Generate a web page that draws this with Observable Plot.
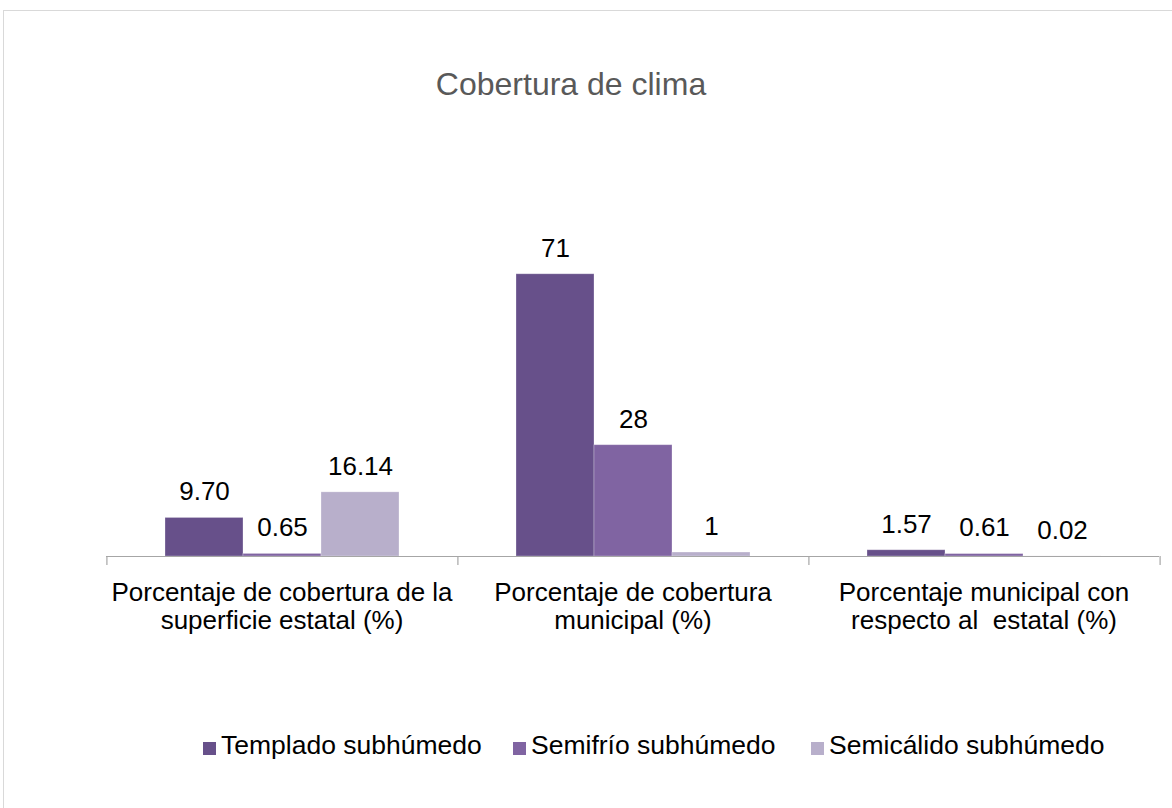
<!DOCTYPE html>
<html>
<head>
<meta charset="utf-8">
<script src="https://cdn.jsdelivr.net/npm/d3@7"></script>
<script src="https://cdn.jsdelivr.net/npm/@observablehq/plot@0.6"></script>
<style>
  html, body { margin: 0; padding: 0; background: #fff; overflow: hidden; }
  body { width: 1172px; height: 808px; position: relative; font-family: "Liberation Sans", Arial, sans-serif; }
  #frame { position: absolute; left: 3px; top: 10px; width: 1200px; height: 900px; border: 1px solid #d9d9d9; box-sizing: border-box; }
  #title { position: absolute; left: 0; top: 68px; width: 1142px; text-align: center; font-size: 32px; line-height: 32px; color: #595959; }
  #chart { position: absolute; left: 0; top: 0; }
  #legend { position: absolute; top: 732px; left: 0; width: 1172px; height: 30px; font-size: 26.5px; line-height: 26px; color: #000; }
  .item { position: absolute; top: 0; white-space: nowrap; }
  .sw { display: inline-block; width: 13px; height: 13px; margin-right: 5px; vertical-align: -1px; }
</style>
</head>
<body>
<div id="frame"></div>
<div id="title">Cobertura de clima</div>
<div id="chart"></div>
<div id="legend"></div>
<script>
// ---- data ----
const categories = [
  "Porcentaje de cobertura de la\nsuperficie estatal (%)",
  "Porcentaje de cobertura\nmunicipal (%)",
  "Porcentaje municipal con\nrespecto al\u00a0 estatal (%)"
];
const series = ["Templado subhúmedo", "Semifrío subhúmedo", "Semicálido subhúmedo"];
const templado   = [9.70, 71, 1.57];
const semifrio   = [0.65, 28, 0.61];
const semicalido = [16.14, 1, 0.02];
const decimals = [2, 0, 2];          // label format per category
const colors = ["#67508a", "#8064a2", "#b8afcb"];
const legendX = [203, 513, 811];

// ---- table built from arrays ----
const seriesValues = [templado, semifrio, semicalido];
const rows = [];
categories.forEach((c, ci) => {
  series.forEach((s, si) => {
    rows.push({category: c, series: s, value: seriesValues[si][ci], ci});
  });
});

// ---- layout ----
const W = 1172, H = 700;
const mTop = 238, mBottom = 144, mLeft = 105, mRight = 13;
const innerH = H - mTop - mBottom;
const padOuter = 0.75;
const facetW = (W - mLeft - mRight) / categories.length;
const step = facetW / (series.length + 2 * padOuter);
const edge = (padOuter + 0.5) * step;

const chart = Plot.plot({
  width: W,
  height: H,
  marginTop: mTop,
  marginBottom: mBottom,
  marginLeft: mLeft,
  marginRight: mRight,
  style: {fontFamily: '"Liberation Sans", Arial, sans-serif', background: "transparent"},
  fx: {domain: categories, padding: 0, axis: null},
  x: {domain: series, paddingInner: 0, paddingOuter: padOuter, axis: null},
  y: {domain: [0, 80], axis: null},
  color: {domain: series, range: colors},
  marks: [
    Plot.barY(rows, {fx: "category", x: "series", y: "value", fill: "series", stroke: "#ffffff", strokeOpacity: 0.35, strokeWidth: 0.8}),
    Plot.ruleY([0], {stroke: "#a6a6a6", strokeWidth: 1.2}),
    Plot.ruleX(categories, {fx: d => d, x: () => series[0], dx: -edge, insetTop: innerH, insetBottom: -9, stroke: "#a6a6a6", strokeWidth: 1.2}),
    Plot.ruleX(categories.slice(-1), {fx: d => d, x: () => series[series.length - 1], dx: edge, insetTop: innerH, insetBottom: -9, stroke: "#a6a6a6", strokeWidth: 1.2}),
    Plot.text(rows, {fx: "category", x: "series", y: "value", text: d => d.value.toFixed(decimals[d.ci]), dy: -26, lineAnchor: "middle", fontSize: 26, fill: "#000"}),
    Plot.text(categories, {fx: d => d, text: d => d, frameAnchor: "bottom", lineAnchor: "top", dy: 25, lineHeight: 1.06, fontSize: 26, fill: "#000"})
  ]
});
document.getElementById("chart").appendChild(chart);

// ---- legend ----
const legend = document.getElementById("legend");
series.forEach((s, i) => {
  const item = document.createElement("div");
  item.className = "item";
  item.style.left = legendX[i] + "px";
  const sw = document.createElement("span");
  sw.className = "sw";
  sw.style.background = colors[i];
  item.appendChild(sw);
  item.appendChild(document.createTextNode(s));
  legend.appendChild(item);
});
</script>
</body>
</html>
